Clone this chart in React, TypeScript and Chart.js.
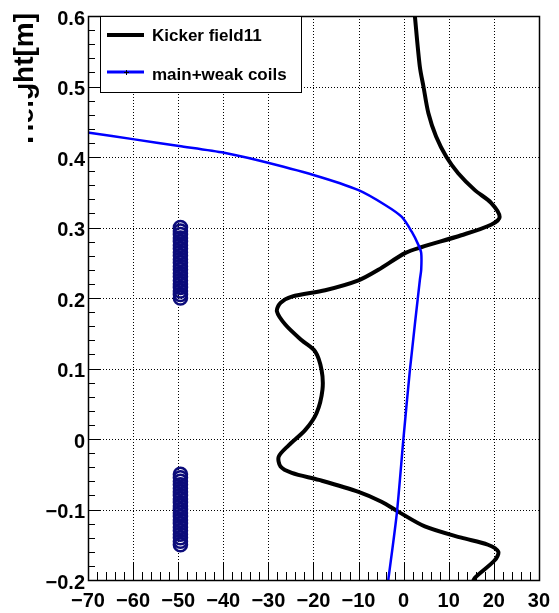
import React, { useEffect, useRef } from 'react';
import { Chart, registerables } from 'chart.js';

Chart.register(...registerables);

// ---- data ----
const X_TICKS = [-70, -60, -50, -40, -30, -20, -10, 0, 10, 20, 30];
const Y_TICKS = [-0.2, -0.1, 0, 0.1, 0.2, 0.3, 0.4, 0.5, 0.6];

const KICKER_X = [2.4, 2.5, 3.6, 4.4, 5.5, 7.2, 9.5, 12.1, 15.8, 19.4, 21.3, 19.4, 12.8, 3.9, 0.4, -5.6, -10, -17.4, -24.8, -27.3, -28.1, -26.2, -22.6, -19.6, -18.2, -18.0, -19.3, -21.8, -25.5, -27.7, -27.3, -24.8, -18.8, -10, -4.9, -1.2, 4.7, 12.8, 18.7, 21.0, 20.2, 15.8, 15.2];
const KICKER_Y = [0.61, 0.6, 0.528, 0.5, 0.462, 0.429, 0.4, 0.377, 0.353, 0.335, 0.315, 0.304, 0.289, 0.272, 0.264, 0.24, 0.225, 0.211, 0.202, 0.193, 0.181, 0.162, 0.14, 0.124, 0.098, 0.07, 0.037, 0.013, -0.009, -0.025, -0.039, -0.048, -0.058, -0.075, -0.089, -0.103, -0.124, -0.14, -0.15, -0.16, -0.172, -0.197, -0.205];

const COILS_X = [-71, -69.7, -59.7, -49.8, -39.8, -32.1, -20, -10, -4.1, -0.4, 1.8, 3.3, 3.9, 3.9, 3.6, 1.4, -0.06, -1.5, -3.4, -3.5];
const COILS_Y = [0.436, 0.4345, 0.425, 0.4156, 0.406, 0.395, 0.3745, 0.353, 0.332, 0.315, 0.294, 0.275, 0.264, 0.24, 0.2255, 0.098, -0.001, -0.105, -0.2, -0.205];

const HOLES_X = -49.5;
const HOLES_UPPER_Y = [0.2, 0.205, 0.21, 0.215, 0.22, 0.225, 0.23, 0.235, 0.24, 0.245, 0.25, 0.255, 0.26, 0.265, 0.27, 0.275, 0.28, 0.285, 0.29, 0.295, 0.3];
const HOLES_LOWER_Y = [-0.15, -0.145, -0.14, -0.135, -0.13, -0.125, -0.12, -0.115, -0.11, -0.105, -0.1, -0.095, -0.09, -0.085, -0.08, -0.075, -0.07, -0.065, -0.06, -0.055, -0.05];

const LEGEND_LABELS = ['Kicker field11', 'main+weak coils'];
const Y_TITLE = 'Height[m]';

const FONT = "'Liberation Sans', Arial, Helvetica, sans-serif";
const NAVY = '#0c0c7a';
const BLUE = '#0000ff';

const fmt = (v: number) => String(Math.round(v * 10) / 10).replace('-', '\u2212');

const rootPlugin = {
  id: 'rootStyle',
  beforeDatasetsDraw(chart: any) {
    const { ctx, chartArea: a, scales } = chart;
    const x = scales.x, y = scales.y;
    ctx.save();
    ctx.strokeStyle = '#000';
    ctx.lineWidth = 1;
    ctx.setLineDash([1, 2]);
    X_TICKS.forEach((v) => {
      const px = Math.round(x.getPixelForValue(v)) + 0.5;
      if (px > a.left + 2 && px < a.right - 2) {
        ctx.beginPath();
        ctx.moveTo(px, a.top);
        ctx.lineTo(px, a.bottom);
        ctx.stroke();
      }
    });
    Y_TICKS.forEach((v) => {
      const py = Math.round(y.getPixelForValue(v)) + 0.5;
      if (py > a.top + 2 && py < a.bottom - 2) {
        ctx.beginPath();
        ctx.moveTo(a.left, py);
        ctx.lineTo(a.right, py);
        ctx.stroke();
      }
    });
    ctx.restore();
  },
  afterDraw(chart: any) {
    const { ctx, chartArea: a, scales } = chart;
    const x = scales.x, y = scales.y;
    ctx.save();
    ctx.setLineDash([]);
    ctx.strokeStyle = '#000';
    ctx.lineWidth = 1;
    for (let i = 0; i < X_TICKS.length; i++) {
      const v = X_TICKS[i];
      const px = Math.round(x.getPixelForValue(v)) + 0.5;
      ctx.beginPath();
      ctx.moveTo(px, a.bottom);
      ctx.lineTo(px, a.bottom - 17);
      ctx.stroke();
      if (i < X_TICKS.length - 1) {
        const step = (X_TICKS[i + 1] - v) / 5;
        for (let k = 1; k < 5; k++) {
          const mx = Math.round(x.getPixelForValue(v + k * step)) + 0.5;
          ctx.beginPath();
          ctx.moveTo(mx, a.bottom);
          ctx.lineTo(mx, a.bottom - 8);
          ctx.stroke();
        }
      }
    }
    for (let i = 0; i < Y_TICKS.length; i++) {
      const v = Y_TICKS[i];
      const py = Math.round(y.getPixelForValue(v)) + 0.5;
      ctx.beginPath();
      ctx.moveTo(a.left, py);
      ctx.lineTo(a.left + 13, py);
      ctx.stroke();
      if (i < Y_TICKS.length - 1) {
        const step = (Y_TICKS[i + 1] - v) / 5;
        for (let k = 1; k < 5; k++) {
          const my = Math.round(y.getPixelForValue(v + k * step)) + 0.5;
          ctx.beginPath();
          ctx.moveTo(a.left, my);
          ctx.lineTo(a.left + 7, my);
          ctx.stroke();
        }
      }
    }
    // frame
    ctx.lineWidth = 1.5;
    ctx.strokeRect(Math.round(a.left) + 0.5, Math.round(a.top) + 0.5, Math.round(a.right - a.left), Math.round(a.bottom - a.top));

    // legend box
    const lx = 100, ly = 16, lw = 201, lh = 76;
    ctx.fillStyle = '#fff';
    ctx.fillRect(lx, ly, lw, lh);
    ctx.lineWidth = 1;
    ctx.strokeStyle = '#000';
    ctx.strokeRect(lx + 0.5, ly + 0.5, lw, lh);
    ctx.lineWidth = 4;
    ctx.strokeStyle = '#000';
    ctx.beginPath();
    ctx.moveTo(107, 35);
    ctx.lineTo(144, 35);
    ctx.stroke();
    ctx.lineWidth = 3;
    ctx.strokeStyle = BLUE;
    ctx.beginPath();
    ctx.moveTo(107, 72);
    ctx.lineTo(144, 72);
    ctx.stroke();
    ctx.lineWidth = 1;
    ctx.strokeStyle = '#000';
    ctx.beginPath();
    ctx.moveTo(124, 72.5);
    ctx.lineTo(129, 72.5);
    ctx.moveTo(126.5, 70);
    ctx.lineTo(126.5, 75);
    ctx.stroke();
    ctx.fillStyle = '#000';
    ctx.font = `bold 17px ${FONT}`;
    ctx.textAlign = 'left';
    ctx.textBaseline = 'alphabetic';
    ctx.fillText(LEGEND_LABELS[0], 152, 41);
    ctx.fillText(LEGEND_LABELS[1], 152, 79.5);

    // y axis title (partly hidden as in the reference)
    ctx.save();
    ctx.beginPath();
    ctx.rect(0, 0, 60, 88);
    ctx.rect(28, 88, 32, 200);
    ctx.clip();
    ctx.translate(33, 13);
    ctx.rotate(-Math.PI / 2);
    ctx.font = `bold 28px ${FONT}`;
    ctx.textAlign = 'right';
    ctx.textBaseline = 'alphabetic';
    ctx.fillStyle = '#000';
    ctx.fillText(Y_TITLE, 0, 0);
    ctx.restore();

    ctx.restore();
  },
};

export default function App() {
  const canvasRef = useRef<HTMLCanvasElement | null>(null);

  useEffect(() => {
    const canvas = canvasRef.current;
    if (!canvas) return;
    const kicker = KICKER_X.map((v, i) => ({ x: v, y: KICKER_Y[i] }));
    const coils = COILS_X.map((v, i) => ({ x: v, y: COILS_Y[i] }));
    const holes = [...HOLES_UPPER_Y, ...HOLES_LOWER_Y].map((v) => ({ x: HOLES_X, y: v }));

    const chart = new Chart(canvas, {
      type: 'scatter',
      data: {
        datasets: [
          {
            label: 'holes',
            data: holes,
            showLine: false,
            pointStyle: 'circle',
            pointRadius: 6.5,
            pointBorderWidth: 2.6,
            pointBorderColor: NAVY,
            pointBackgroundColor: 'rgba(0,0,0,0)',
            clip: 0,
          } as any,
          {
            label: LEGEND_LABELS[1],
            data: coils,
            showLine: true,
            borderColor: BLUE,
            borderWidth: 2.5,
            pointRadius: 0,
            tension: 0.25,
            clip: 0,
          } as any,
          {
            label: LEGEND_LABELS[0],
            data: kicker,
            showLine: true,
            borderColor: '#000',
            borderWidth: 4,
            pointRadius: 0,
            tension: 0.3,
            clip: 0,
          } as any,
        ],
      },
      options: {
        responsive: false,
        animation: false,
        devicePixelRatio: 1,
        layout: { padding: { top: 16, right: 17, left: 0, bottom: 0 } },
        plugins: { legend: { display: false }, tooltip: { enabled: false }, title: { display: false } },
        scales: {
          x: {
            type: 'linear',
            position: 'bottom',
            min: -70,
            max: 30,
            afterBuildTicks: (s: any) => { s.ticks = X_TICKS.map((v) => ({ value: v })); },
            afterFit: (s: any) => { s.height = 33; },
            grid: { display: false, drawTicks: false },
            border: { display: false },
            ticks: {
              padding: 9,
              maxRotation: 0,
              autoSkip: false,
              color: '#000',
              font: { family: FONT, size: 20, weight: 'bold' },
              callback: (v: any) => fmt(Number(v)),
            },
          },
          y: {
            type: 'linear',
            position: 'left',
            min: -0.2,
            max: 0.6,
            afterBuildTicks: (s: any) => { s.ticks = Y_TICKS.map((v) => ({ value: v })); },
            afterFit: (s: any) => { s.width = 88; },
            grid: { display: false, drawTicks: false },
            border: { display: false },
            ticks: {
              padding: 3,
              labelOffset: 3,
              autoSkip: false,
              color: '#000',
              font: { family: FONT, size: 20, weight: 'bold' },
              callback: (v: any) => fmt(Number(v)),
            },
          },
        },
      } as any,
      plugins: [rootPlugin],
    });
    return () => chart.destroy();
  }, []);

  return (
    <div style={{ position: 'fixed', left: 0, top: 0, width: 559, height: 613, background: '#fff' }}>
      <canvas ref={canvasRef} width={559} height={613} style={{ display: 'block', width: 559, height: 613 }} />
    </div>
  );
}
